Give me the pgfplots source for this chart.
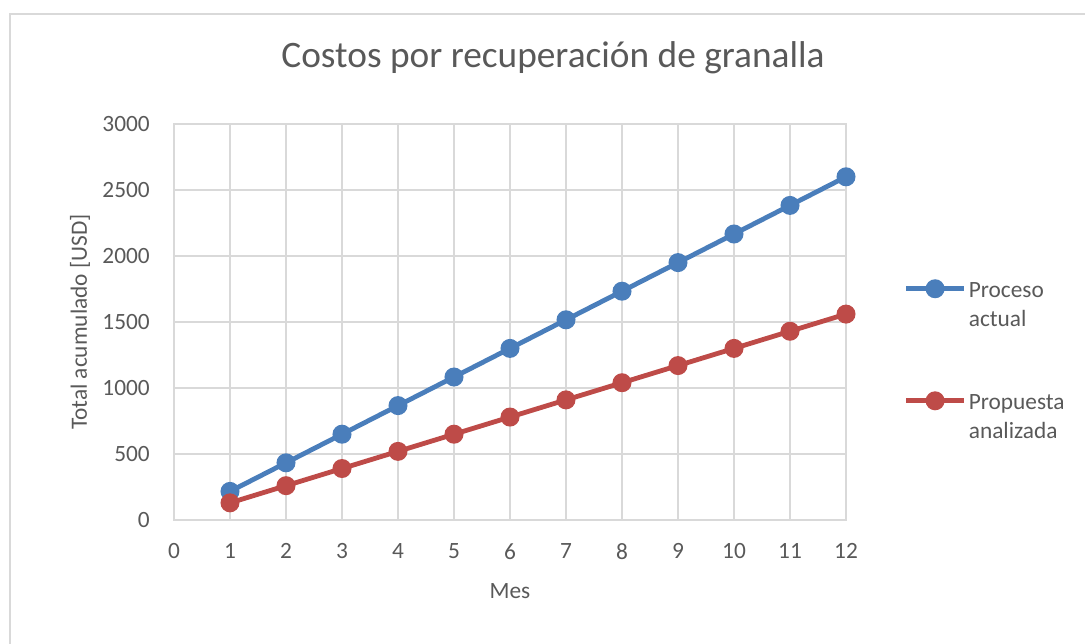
\documentclass[border=0pt]{standalone}
\usepackage{pgfplots}
\pgfplotsset{compat=1.18}
\usepackage{fontspec}
\setmainfont{Carlito}
\definecolor{blueS}{HTML}{4A7EBB}
\definecolor{redS}{HTML}{BE4B48}
\definecolor{gridc}{HTML}{D9D9D9}
\definecolor{txt}{HTML}{595959}
\begin{document}
\begin{tikzpicture}
\path[use as bounding box] (0pt,0pt) rectangle (813.75pt,-482.25pt);
\draw[gridc,line width=0.8pt] (7.5pt,-530pt) -- (7.5pt,-10.5pt) -- (900pt,-10.5pt);
\node[txt,font=\fontsize{28}{32}\selectfont] at (414.75pt,-43.5pt) {Costos por recuperación de granalla};
\begin{axis}[
  at={(130.5pt,-390pt)}, anchor=south west,
  scale only axis, width=504pt, height=297pt,
  xmin=0, xmax=12, ymin=0, ymax=3000,
  xtick={0,...,12}, ytick={0,500,...,3000},
  grid=major, major grid style={gridc,line width=1.3pt},
  axis line style={gridc,line width=1.3pt},
  tick style={draw=none},
  ticklabel style={txt,font=\fontsize{17.5}{21}\selectfont,inner sep=0pt},
  yticklabel style={anchor=east,xshift=-18pt},
  xticklabel style={anchor=north,yshift=-17.5pt},
  /pgf/number format/assume math mode=true,
  scaled y ticks=false,
  y tick label style={/pgf/number format/1000 sep={}},
  xlabel={Mes}, ylabel={Total acumulado [USD]},
  label style={txt,font=\fontsize{17.5}{21}\selectfont},
  xlabel style={at={(axis description cs:0.5,-0.179)},anchor=center},
  ylabel style={at={(axis description cs:-0.14,0.5)},anchor=center},
  legend style={at={(1.08,0.626)},anchor=north west,draw=none,fill=none,
    text=txt,font=\fontsize{17.5}{21.5}\selectfont,row sep=63.5pt,
    nodes={align=left}},
  legend cell align=left,
  legend image code/.code={
    \draw[#1,line width=3.6pt] (0pt,0pt) -- (43pt,0pt);
    \fill[#1] (21.5pt,0pt) circle (5.3pt);
  },
]
\addplot[blueS,line width=3.6pt,mark=*,mark size=5.3pt,mark options={solid}] coordinates {
(1,216.7)(2,433.3)(3,650)(4,866.7)(5,1083.3)(6,1300)(7,1516.7)(8,1733.3)(9,1950)(10,2166.7)(11,2383.3)(12,2600)};
\addlegendentry{\begin{tabular}[t]{@{}l@{}}Proceso\\actual\end{tabular}}
\addplot[redS,line width=3.6pt,mark=*,mark size=5.3pt,mark options={solid}] coordinates {
(1,130)(2,260)(3,390)(4,520)(5,650)(6,780)(7,910)(8,1040)(9,1170)(10,1300)(11,1430)(12,1560)};
\addlegendentry{\begin{tabular}[t]{@{}l@{}}Propuesta\\analizada\end{tabular}}
\end{axis}
\end{tikzpicture}
\end{document}
